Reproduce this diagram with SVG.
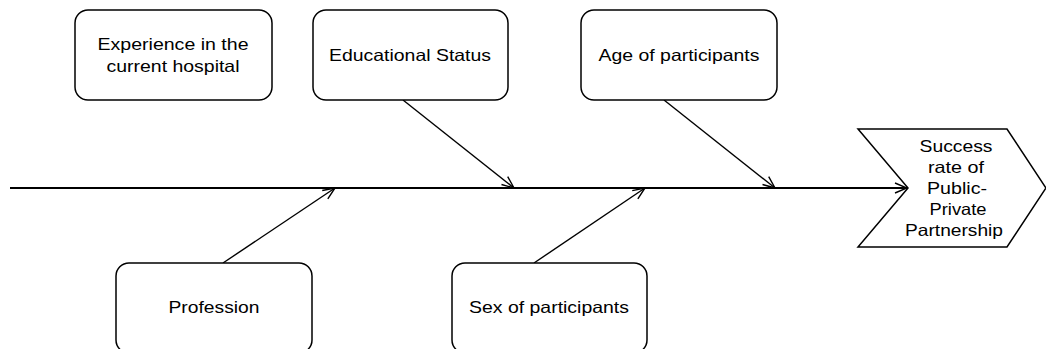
<svg xmlns="http://www.w3.org/2000/svg" width="1046" height="349" viewBox="0 0 1046 349">
<defs>
<style>
.box{fill:#fff;stroke:#000;stroke-width:1.5}
.t{font-family:"Liberation Sans",Arial,sans-serif;font-size:16.5px;fill:#000;text-anchor:middle}
.c{stroke:#000;stroke-width:1.4;fill:none}
.spine{stroke:#000;stroke-width:2;fill:none}
</style>
<marker id="arr" viewBox="0 0 14 12" refX="13" refY="6" markerWidth="14" markerHeight="12" markerUnits="userSpaceOnUse" orient="auto">
<path d="M1,1 L13,6 L1,11" fill="none" stroke="#000" stroke-width="1.4"/>
</marker>
</defs>
<rect width="1046" height="349" fill="#fff"/>
<g id="connectors">
<line class="spine" x1="10" y1="188" x2="907" y2="188" marker-end="url(#arr)"/>
<line class="c" x1="403" y1="100" x2="514" y2="188" marker-end="url(#arr)"/>
<line class="c" x1="664" y1="100" x2="775" y2="188" marker-end="url(#arr)"/>
<line class="c" x1="223" y1="263" x2="335" y2="188" marker-end="url(#arr)"/>
<line class="c" x1="534" y1="263" x2="645" y2="188" marker-end="url(#arr)"/>
</g>
<g id="experience">
<rect class="box" x="75" y="10" width="197" height="90" rx="13"/>
<text class="t" x="173" y="50" textLength="151" lengthAdjust="spacingAndGlyphs">Experience in the</text>
<text class="t" x="173" y="72" textLength="133" lengthAdjust="spacingAndGlyphs">current hospital</text>
</g>
<g id="education">
<rect class="box" x="313" y="10" width="195" height="90" rx="13"/>
<text class="t" x="410" y="61" textLength="162" lengthAdjust="spacingAndGlyphs">Educational Status</text>
</g>
<g id="age">
<rect class="box" x="581" y="10" width="196" height="90" rx="13"/>
<text class="t" x="679" y="61" textLength="161" lengthAdjust="spacingAndGlyphs">Age of participants</text>
</g>
<g id="profession">
<rect class="box" x="116" y="263" width="196" height="90" rx="13"/>
<text class="t" x="214" y="313" textLength="91" lengthAdjust="spacingAndGlyphs">Profession</text>
</g>
<g id="sex">
<rect class="box" x="452" y="263" width="195" height="90" rx="13"/>
<text class="t" x="549" y="313" textLength="160" lengthAdjust="spacingAndGlyphs">Sex of participants</text>
</g>
<g id="outcome">
<polygon class="box" points="858,129 1007,129 1046,188 1007,247 858,247 908,188"/>
<text class="t" x="956" y="152" textLength="73" lengthAdjust="spacingAndGlyphs">Success</text>
<text class="t" x="956" y="173" textLength="56" lengthAdjust="spacingAndGlyphs">rate of</text>
<text class="t" x="957" y="194" textLength="60" lengthAdjust="spacingAndGlyphs">Public-</text>
<text class="t" x="958" y="215" textLength="57" lengthAdjust="spacingAndGlyphs">Private</text>
<text class="t" x="954" y="236" textLength="98" lengthAdjust="spacingAndGlyphs">Partnership</text>
</g>
</svg>
